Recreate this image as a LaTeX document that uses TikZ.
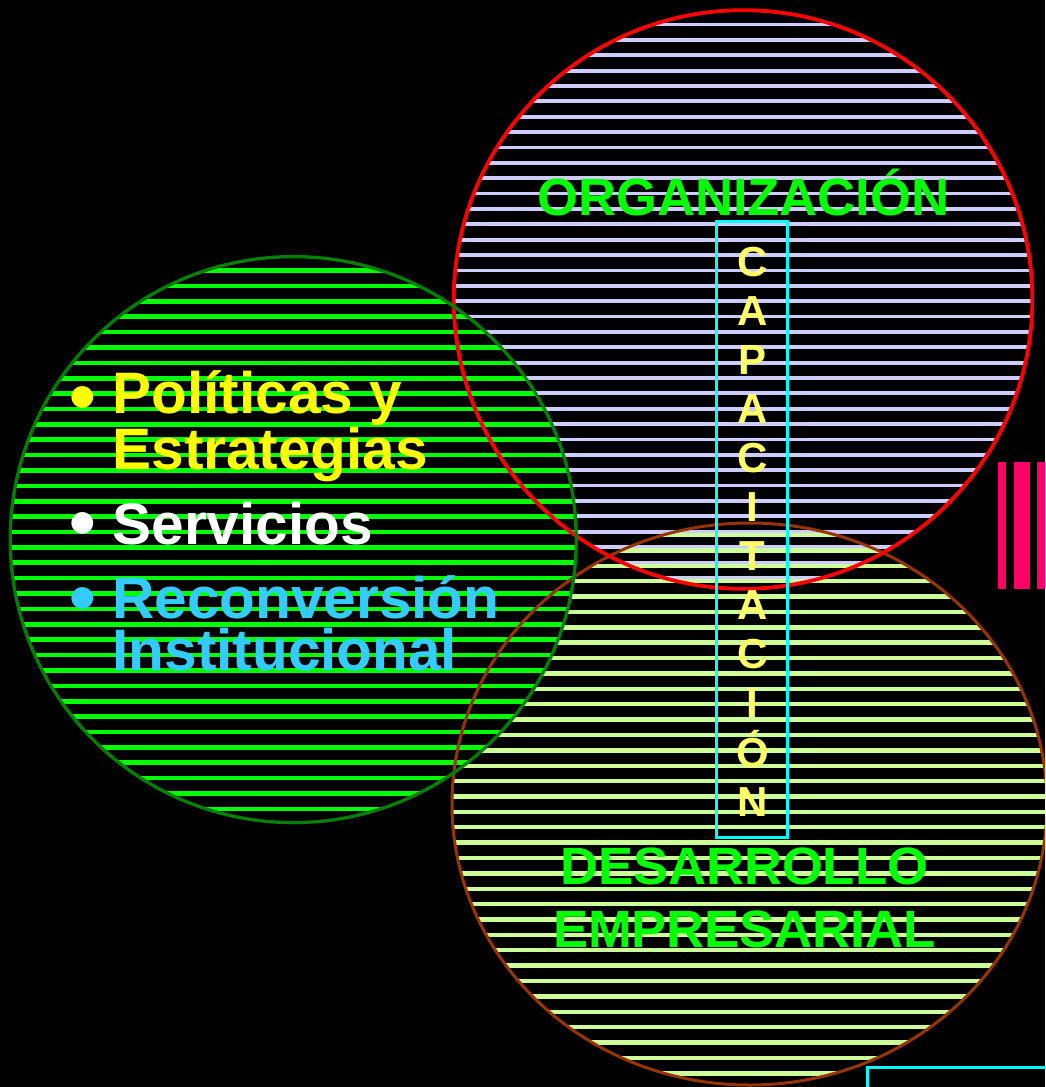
\documentclass[tikz,border=0pt]{standalone}
\usepackage{fontspec}
\setmainfont{Liberation Sans}
\newcommand\myfs[2]{\fontsize{#1}{#2}\selectfont}
\definecolor{lavline}{HTML}{CCCCFF}
\definecolor{grnline}{HTML}{00FF00}
\definecolor{grnedge}{HTML}{008000}
\definecolor{ylgline}{HTML}{CCFF99}
\definecolor{brnedge}{HTML}{993300}
\definecolor{rededge}{HTML}{FF0000}
\definecolor{cyanedge}{HTML}{00FFFF}
\definecolor{capyel}{HTML}{FFFF66}
\definecolor{poltxt}{HTML}{FFFF00}
\definecolor{rectxt}{HTML}{33CCFF}
\definecolor{titlegrn}{HTML}{00FF00}
\definecolor{pinkbar}{HTML}{FF0066}
\begin{document}
\begin{tikzpicture}[x=1pt,y=-1pt,
  lavstripe/.style={draw=lavline, line width=3.8pt},
  grnstripe/.style={draw=grnline, line width=4.6pt},
  ylgstripe/.style={draw=ylgline, line width=4.4pt},
  txt/.style={inner sep=0pt, outer sep=0pt},
  title/.style={txt, text=titlegrn, font=\bfseries\myfs{52.5}{63.3}, anchor=base, align=center},
  listtxt/.style={txt, font=\bfseries\myfs{58.5}{52.5}, anchor=base west, align=left},
  bul/.style={txt, font=\bfseries\myfs{76}{76}, anchor=north},
  caplet/.style={txt, text=capyel, font=\bfseries\myfs{42}{42}, anchor=base},
]
\useasboundingbox (0,0) rectangle (1045,1087);
\clip (0,0) rectangle (1045,1087);
\fill[black] (0,0) rectangle (1045,1087);

% red circle stripes
\begin{scope}
  \clip (743,299.5) circle (289.3);
  \foreach \k in {-14,...,24} \draw[lavstripe] (440,224.3+\k*15.37) -- (1050,224.3+\k*15.37);
\end{scope}
% brown ellipse stripes
\begin{scope}
  \clip (749.5,804) ellipse (297.5 and 281);
  \foreach \k in {-7,...,30} \draw[ylgstripe] (440,627.3+\k*15.38) -- (1060,627.3+\k*15.38);
\end{scope}
% green circle: black fill and stripes
\fill[black] (293.2,539.6) circle (283);
\begin{scope}
  \clip (293.2,539.6) circle (283);
  \foreach \k in {-4,...,33} \draw[grnstripe] (0,316.7+\k*15.38) -- (600,316.7+\k*15.38);
\end{scope}
% outlines
\draw[brnedge, line width=3pt] (749.5,804) ellipse (297.5 and 281);
\draw[rededge, line width=3.8pt] (743,299.5) circle (289.3);
\draw[grnedge, line width=3.3pt] (293.2,539.6) circle (283);

% capacitacion box
\draw[cyanedge, line width=3pt] (716,221.7) rectangle (787.3,837.3);
\foreach \l [count=\i from 0] in {C,A,P,A,C,I,T,A,C,I,Ó,N}
  \node[caplet] (cap\i) at (752.5,276+\i*49.1) {\l};

% titles
\node[title] (org) at (743.5,215) {ORGANIZACIÓN};
\node[title] (des) at (744.2,947.3) {DESARROLLO\\EMPRESARIAL};

% list
\node[bul, text=poltxt] (b1) at (82.5,386.4) {•};
\node[bul, text=white] (b2) at (82.5,513) {•};
\node[bul, text=rectxt] (b3) at (82.5,588) {•};
\node[listtxt, text=poltxt] (pol) at (112.5,469.3) {Políticas y\\Estrategias};
\node[listtxt, text=white] (ser) at (112.5,544) {Servicios};
\node[listtxt, text=rectxt] (rec) at (112.5,670.7) {Reconversión\\Institucional};

% pink bars
\fill[pinkbar] (998,462) rectangle (1006,588.7);
\fill[pinkbar] (1014,462) rectangle (1030,588.7);
\fill[pinkbar] (1037.3,462) rectangle (1050,588.7);

% bottom right box
\draw[cyanedge, line width=3pt] (867,1067) rectangle (1070,1110);
\end{tikzpicture}
\end{document}
